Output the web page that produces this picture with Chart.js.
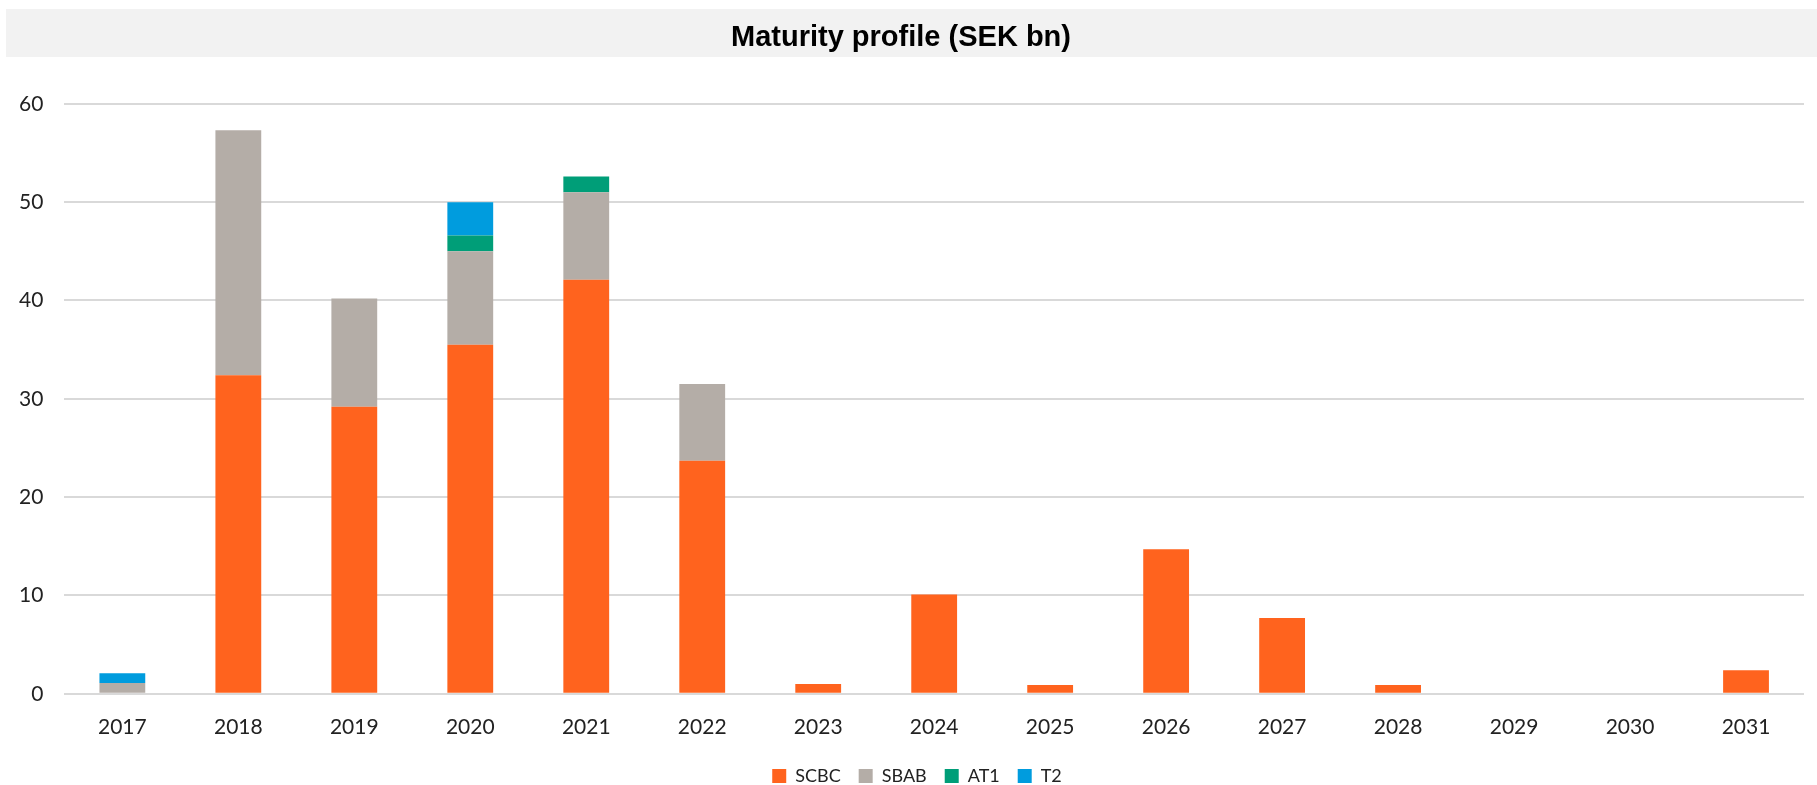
<!DOCTYPE html>
<html>
<head>
<meta charset="utf-8">
<script src="https://cdn.jsdelivr.net/npm/chart.js@4.4.0/dist/chart.umd.min.js"></script>
<style>
  html, body { margin: 0; padding: 0; background: #fff; }
  #wrap { width: 1817px; height: 785px; }
</style>
</head>
<body>
<div id="wrap"><canvas id="grafico"></canvas></div>
<script>
// dados (SEK bn)
const anos = ["2017","2018","2019","2020","2021","2022","2023","2024","2025","2026","2027","2028","2029","2030","2031"];
const scbc = [0, 32.4, 29.2, 35.5, 42.1, 23.7, 1.0, 10.1, 0.9, 14.7, 7.7, 0.9, 0, 0, 2.4];
const sbab = [1.1, 24.9, 11.0, 9.5, 8.9, 7.8, 0, 0, 0, 0, 0, 0, 0, 0, 0];
const at1  = [0, 0, 0, 1.6, 1.6, 0, 0, 0, 0, 0, 0, 0, 0, 0, 0];
const t2   = [1.0, 0, 0, 3.4, 0, 0, 0, 0, 0, 0, 0, 0, 0, 0, 0];
const ticksY = [0, 10, 20, 30, 40, 50, 60];

const fonte = "Lato, 'Open Sans', sans-serif";

// faixa cinza atras do titulo
const fundoTitulo = {
    id: "fundoTitulo",
    afterLayout: (chart) => {
        // legenda um pouco para a direita, como no original
        chart.legend.left += 16;
        chart.legend.right += 16;
    },
    beforeDraw: (chart) => {
        const t = chart.titleBlock;
        const ctx = chart.ctx;
        ctx.save();
        ctx.fillStyle = "#f2f2f2";
        ctx.fillRect(6, t.top, chart.width - 6, 48);
        ctx.restore();
    }
};

const serie = (label, data, cor) => ({
    label: label,
    data: data,
    backgroundColor: cor,
    borderWidth: 0,
    barPercentage: 1,
    categoryPercentage: 0.395
});

new Chart(document.getElementById("grafico"), {
    type: "bar",
    data: {
        labels: anos,
        datasets: [
            serie("SCBC", scbc, "#ff631e"),
            serie("SBAB", sbab, "#b4ada7"),
            serie("AT1", at1, "#009e78"),
            serie("T2", t2, "#009cde")
        ]
    },
    options: {
        responsive: true,
        maintainAspectRatio: false,
        animation: false,
        layout: { padding: { top: 9, left: -2, right: 13, bottom: -10 } },
        plugins: {
            title: {
                display: true,
                text: "Maturity profile (SEK bn)",
                color: "#000",
                font: { family: "'Liberation Sans', Arial, sans-serif", size: 29, weight: "bold" },
                padding: { top: 12, bottom: 48 }
            },
            legend: {
                position: "bottom",
                labels: {
                    color: "#222",
                    font: { family: fonte, size: 18 },
                    boxWidth: 14,
                    boxHeight: 14,
                    padding: 18
                }
            },
            tooltip: { enabled: false }
        },
        scales: {
            x: {
                stacked: true,
                grid: { display: false },
                border: { display: false },
                ticks: { color: "#222", font: { family: fonte, size: 21 }, padding: 13 },
                afterFit: (axis) => { axis.height -= 4; }
            },
            y: {
                stacked: true,
                min: 0,
                max: 60,
                afterBuildTicks: (axis) => { axis.ticks = ticksY.map(v => ({ value: v })); },
                grid: { color: "#d9d9d9", lineWidth: 2, drawTicks: false },
                border: { display: false },
                ticks: { color: "#222", font: { family: fonte, size: 21 }, padding: 21 }
            }
        }
    },
    plugins: [fundoTitulo]
});
</script>
</body>
</html>
